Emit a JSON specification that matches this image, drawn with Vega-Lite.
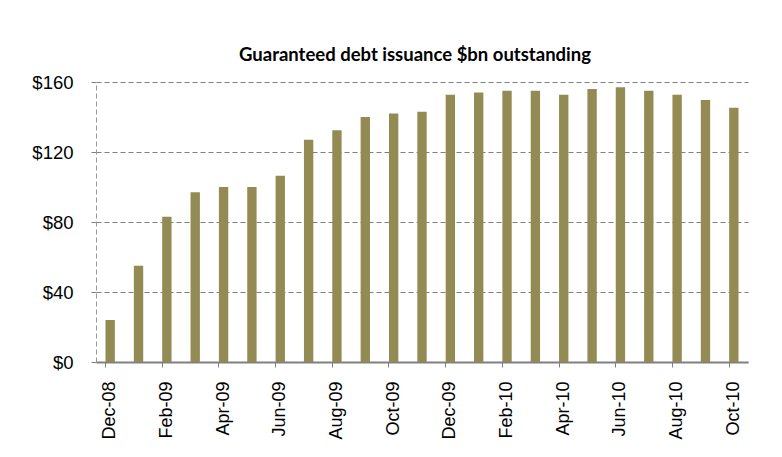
{
  "$schema": "https://vega.github.io/schema/vega-lite/v6.json",
  "width": 652,
  "height": 280,
  "autosize": {"type": "none"},
  "padding": {"left": 96, "top": 82, "right": 34, "bottom": 95},
  "background": "white",
  "title": {
    "text": "Guaranteed debt issuance $bn outstanding",
    "font": "Lato",
    "fontSize": 18.5,
    "fontWeight": "bold",
    "color": "#000000",
    "anchor": "middle",
    "baseline": "alphabetic",
    "offset": 20,
    "dy": 26,
    "dx": -7
  },
  "data": {
    "values": [
      {"month": "Dec-08", "value": 24},
      {"month": "Jan-09", "value": 55},
      {"month": "Feb-09", "value": 83},
      {"month": "Mar-09", "value": 97},
      {"month": "Apr-09", "value": 100},
      {"month": "May-09", "value": 100},
      {"month": "Jun-09", "value": 106.5},
      {"month": "Jul-09", "value": 127},
      {"month": "Aug-09", "value": 132.5},
      {"month": "Sep-09", "value": 140},
      {"month": "Oct-09", "value": 142},
      {"month": "Nov-09", "value": 143},
      {"month": "Dec-09", "value": 152.7},
      {"month": "Jan-10", "value": 154},
      {"month": "Feb-10", "value": 155},
      {"month": "Mar-10", "value": 155},
      {"month": "Apr-10", "value": 152.7},
      {"month": "May-10", "value": 156},
      {"month": "Jun-10", "value": 157},
      {"month": "Jul-10", "value": 155},
      {"month": "Aug-10", "value": 152.7},
      {"month": "Sep-10", "value": 149.7},
      {"month": "Oct-10", "value": 145.3}
    ]
  },
  "mark": {"type": "bar", "color": "#948A54"},
  "encoding": {
    "x": {
      "field": "month",
      "type": "ordinal",
      "sort": null,
      "scale": {"paddingInner": 0.67, "paddingOuter": 0.335},
      "axis": {
        "title": null,
        "values": ["Dec-08", "Feb-09", "Apr-09", "Jun-09", "Aug-09", "Oct-09", "Dec-09", "Feb-10", "Apr-10", "Jun-10", "Aug-10", "Oct-10"],
        "labelAngle": -90,
        "labelFont": "Liberation Sans",
        "labelFontSize": 18,
        "labelColor": "#000000",
        "labelPadding": 14,
        "tickSize": 5,
        "tickColor": "#808080",
        "tickWidth": 1,
        "bandPosition": 0,
        "domainColor": "#808080",
        "domainWidth": 2,
        "grid": false
      }
    },
    "y": {
      "field": "value",
      "type": "quantitative",
      "scale": {"domain": [0, 160], "nice": false},
      "axis": {
        "title": null,
        "values": [0, 40, 80, 120, 160],
        "format": "$.0f",
        "labelFont": "Liberation Sans",
        "labelFontSize": 18.5,
        "labelColor": "#000000",
        "labelPadding": 15,
        "tickSize": 8,
        "tickColor": "#808080",
        "tickDash": [5, 3],
        "grid": true,
        "gridColor": "#808080",
        "gridDash": [5, 3],
        "gridWidth": 1,
        "gridOpacity": 1,
        "domainColor": "#999999",
        "domainDash": [5, 3],
        "domainWidth": 1
      }
    }
  },
  "config": {
    "view": {"stroke": null}
  }
}
